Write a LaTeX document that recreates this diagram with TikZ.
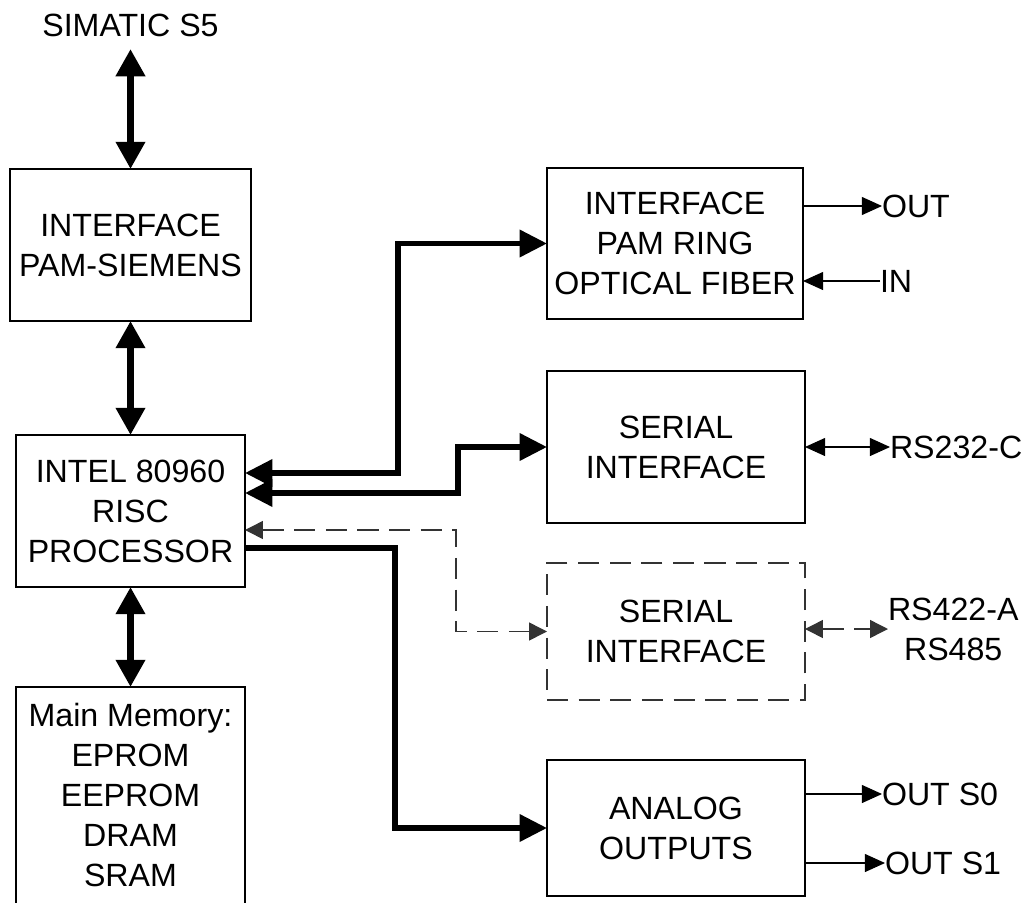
\documentclass[tikz,border=0pt]{standalone}
\usepackage{fontspec}
\setmainfont{Liberation Sans}
\usetikzlibrary{arrows.meta, calc, positioning}

\tikzset{
  bigtip/.tip={Triangle[length=15.5pt, width=16pt]},
  bustip/.tip={Triangle[length=15.6pt, width=15pt]},
  wiretip/.tip={Triangle[length=11.4pt, width=10.2pt]},
  opttip/.tip={Triangle[length=10.2pt, width=10.2pt]}
}

\begin{document}
\begin{tikzpicture}[x=0.02cm, y=-0.02cm,
  font=\fontsize{18.3}{22.8}\selectfont,
  box/.style={draw, line width=1.5pt, align=center, inner sep=0pt, outer sep=0pt},
  optbox/.style={draw=black!80, line width=0.8pt, dash pattern=on 12pt off 6pt, align=center, inner sep=0pt, outer sep=0pt},
  tag/.style={inner sep=0pt, outer sep=0pt, anchor=west, align=center},
  vbus/.style={line width=3.8pt, bigtip-bigtip},
  bus/.style={line width=3.2pt},
  wire/.style={line width=0.6pt},
  optwire/.style={draw=black!80, line width=0.8pt, dash pattern=on 12pt off 6pt}]
\useasboundingbox (0,0) rectangle (1025,903);

% left column
\node[inner sep=7pt] (simatic) at (130.5,25) {SIMATIC S5};
\node[box, minimum width=4.82cm, minimum height=3.04cm] (siemens) at (130.5,245) {INTERFACE\\PAM-SIEMENS};
\node[box, minimum width=4.58cm, minimum height=3.04cm] (cpu) at (130.5,511) {INTEL 80960\\RISC\\PROCESSOR};
\node[box, anchor=north, minimum width=4.58cm, minimum height=4.66cm] (memory) at (130.5,687) {};
\node[align=center] (memtext) at (130.5,795) {Main Memory:\\EPROM\\EEPROM\\DRAM\\SRAM};

\draw[vbus] (simatic) -- (siemens);
\draw[vbus] (siemens) -- (cpu);
\draw[vbus] (cpu) -- (memory);

% right column
\node[box, minimum width=5.12cm, minimum height=3.02cm] (ring) at (675,243.5) {INTERFACE\\PAM RING\\OPTICAL FIBER};
\node[box, minimum width=5.16cm, minimum height=3.04cm] (serial) at (676,447) {SERIAL\\INTERFACE};
\node[optbox, minimum width=5.16cm, minimum height=2.74cm] (serialopt) at (676,631.5) {SERIAL\\INTERFACE};
\node[box, minimum width=5.16cm, minimum height=2.72cm] (analog) at (676,828) {ANALOG\\OUTPUTS};

% buses from the processor
\draw[bus, bustip-bustip] ($(cpu.east)+(0,-38)$) -- ++(153,0) |- (ring.west);
\draw[bus, bustip-bustip] ($(cpu.east)+(0,-18)$) -- ++(213,0) |- (serial.west);
\draw[optwire, opttip-opttip] ($(cpu.east)+(0,19)$) -- ++(211,0) |- (serialopt.west);
\draw[bus, -bustip] ($(cpu.east)+(0,37)$) -- ++(150,0) |- (analog.west);

% outside signals
\node[tag] (ringout) at (882,206) {OUT};
\node[tag] (ringin) at (880,281) {IN};
\node[tag] (rs232) at (890,447) {RS232-C};
\node[tag] (rs422) at (888,629) {RS422-A\\RS485};
\node[tag] (outs0) at (882,794) {OUT S0};
\node[tag] (outs1) at (885,863) {OUT S1};

\draw[wire, -wiretip] (ringout.west -| ring.east) -- (ringout.west);
\draw[wire, -wiretip] (ringin.west) -- (ringin.west -| ring.east);
\draw[wire, wiretip-wiretip] (rs232.west -| serial.east) -- (rs232.west);
\draw[optwire, opttip-opttip] (rs422.west -| serialopt.east) -- (rs422.west);
\draw[wire, -wiretip] (outs0.west -| analog.east) -- (outs0.west);
\draw[wire, -wiretip] (outs1.west -| analog.east) -- (outs1.west);

\end{tikzpicture}
\end{document}
